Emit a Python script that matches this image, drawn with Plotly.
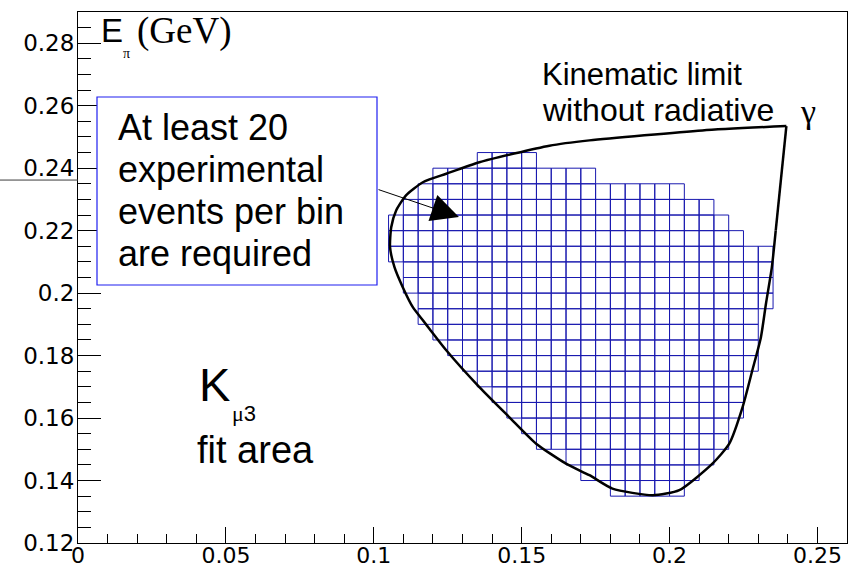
import plotly.graph_objects as go

# ---- binning of the fit area: one column of 0.005 x 0.005 bins per x edge ----
bin_w = 0.005
bin_h = 0.005
col_x0 = [0.105, 0.110, 0.115, 0.120, 0.125, 0.130, 0.135, 0.140, 0.145,
          0.150, 0.155, 0.160, 0.165, 0.170, 0.175, 0.180, 0.185, 0.190,
          0.195, 0.200, 0.205, 0.210, 0.215, 0.220, 0.225, 0.230]
col_ylo = [0.210, 0.200, 0.190, 0.185, 0.180, 0.175, 0.170, 0.165, 0.160,
           0.155, 0.150, 0.150, 0.145, 0.140, 0.140, 0.135, 0.135, 0.135,
           0.135, 0.135, 0.140, 0.145, 0.150, 0.160, 0.175, 0.195]
col_yhi = [0.225, 0.230, 0.235, 0.240, 0.240, 0.240, 0.245, 0.245, 0.245,
           0.245, 0.240, 0.240, 0.240, 0.240, 0.235, 0.235, 0.235, 0.235,
           0.235, 0.235, 0.230, 0.230, 0.225, 0.220, 0.215, 0.215]

# ---- kinematic limit without radiative photon (closed contour) ----
lim_x = [0.2395, 0.2111, 0.1729, 0.1594, 0.1357, 0.1245, 0.1166, 0.1109,
         0.1076, 0.1059, 0.1055, 0.1070, 0.1098, 0.1132, 0.1166, 0.1188,
         0.1245, 0.1357, 0.1458, 0.1549, 0.1650, 0.1729, 0.1807, 0.1943,
         0.2033, 0.2145, 0.2202, 0.2247, 0.2280, 0.2309, 0.2326, 0.2346,
         0.2359, 0.2395]
lim_y = [0.2535, 0.2521, 0.2489, 0.2472, 0.2419, 0.2382, 0.2355, 0.2313,
         0.2265, 0.2211, 0.2147, 0.2083, 0.2019, 0.1955, 0.1913, 0.1886,
         0.1817, 0.1699, 0.1603, 0.1518, 0.1454, 0.1417, 0.1374, 0.1353,
         0.1369, 0.1454, 0.1518, 0.1635, 0.1753, 0.1859, 0.1966, 0.2083,
         0.2200, 0.2535]

# ---- axes ----
x_ticks = [0, 0.05, 0.10, 0.15, 0.20, 0.25]
x_labels = ["0", "0.05", "0.1", "0.15", "0.2", "0.25"]
y_ticks = [0.12, 0.14, 0.16, 0.18, 0.20, 0.22, 0.24, 0.26, 0.28]
y_labels = ["0.12", "0.14", "0.16", "0.18", "0.2", "0.22", "0.24", "0.26", "0.28"]

W, H = 848, 571
ML, MR, MT, MB = 78, 1, 12, 28
PW, PH = W - ML - MR, H - MT - MB


def paper(px, py):
    """pixel position on the page -> paper coordinates"""
    return (px - ML) / PW, (H - MB - py) / PH


# outline of every bin, as one polyline broken by gaps
gx, gy = [], []
for x0, lo, hi in zip(col_x0, col_ylo, col_yhi):
    n = round((hi - lo) / bin_h)
    for k in range(n):
        y0 = lo + k * bin_h
        gx += [x0, x0 + bin_w, x0 + bin_w, x0, x0, None]
        gy += [y0, y0, y0 + bin_h, y0 + bin_h, y0, None]

fig = go.Figure()
fig.add_trace(go.Scatter(x=gx, y=gy, mode="lines",
                         line=dict(color="rgb(25,25,175)", width=1),
                         hoverinfo="skip"))
# smooth part of the contour, then the straight edge back into the corner
fig.add_trace(go.Scatter(x=lim_x[:-1], y=lim_y[:-1], mode="lines",
                         line=dict(color="black", width=2.5, shape="spline",
                                   smoothing=0.6),
                         hoverinfo="skip"))
fig.add_trace(go.Scatter(x=lim_x[-2:], y=lim_y[-2:], mode="lines",
                         line=dict(color="black", width=2.5),
                         hoverinfo="skip"))

SANS = "Liberation Sans"
SERIF = "Liberation Serif"


def label(text, px, py, size, family=SANS):
    xp, yp = paper(px, py)
    fig.add_annotation(text=text, x=xp, y=yp, xref="paper", yref="paper",
                       xanchor="left", yanchor="middle", showarrow=False,
                       font=dict(family=family, size=size, color="black"))


# axis title in the corner
label("E", 99, 30, 33)
label("π", 121, 53, 14, SERIF)
label("(GeV)", 135, 31, 37, SERIF)

# kinematic limit caption
label("Kinematic limit", 540, 74, 31)
label("without radiative", 540, 110, 32)
label("γ", 798, 112, 34, SERIF)

# boxed note
bx0, by0 = paper(97, 97)
bx1, by1 = paper(377, 285)
fig.add_shape(type="rect", xref="paper", yref="paper",
              x0=bx0, y0=by0, x1=bx1, y1=by1,
              line=dict(color="rgb(30,30,240)", width=1.2), fillcolor="white")
for i, line in enumerate(["At least 20", "experimental",
                          "events per bin", "are required"]):
    label(line, 116, 128 + 41.7 * i, 36)

# arrow from the note into the binned area
fig.add_annotation(x=0.1288, y=0.2244, ax=0.1011, ay=0.2333,
                   xref="x", yref="y", axref="x", ayref="y",
                   text="", showarrow=True, arrowhead=2, arrowsize=5.5,
                   arrowwidth=1, arrowcolor="black", standoff=0)

# fit area label
label("K", 197, 384, 47)
label("<span style='font-family:Liberation Serif'>μ</span>3", 230, 413, 22)
label("fit area", 195, 450, 38)

# stray rule in the left margin
ly = 0.2362
fig.add_shape(type="line", xref="paper", yref="y", x0=-ML / PW, x1=0,
              y0=ly, y1=ly, line=dict(color="rgb(60,60,60)", width=1))

axis_common = dict(showline=True, linecolor="black", linewidth=1, mirror=True,
                   showgrid=False, zeroline=False, ticks="inside",
                   tickcolor="black", tickwidth=1, automargin=False)
fig.update_xaxes(range=[0, 0.26], tickmode="array", tickvals=x_ticks,
                 ticktext=x_labels, ticklen=16, ticklabelstandoff=-7,
                 tickfont=dict(family="DejaVu Sans", size=22, color="black"),
                 minor=dict(tickmode="linear", tick0=0, dtick=0.01,
                            ticks="inside", ticklen=9, tickcolor="black"),
                 **axis_common)
fig.update_yaxes(range=[0.12, 0.29], tickmode="array", tickvals=y_ticks,
                 ticktext=y_labels, ticklen=23, ticklabelstandoff=-2,
                 tickfont=dict(family="DejaVu Sans", size=23, color="black"),
                 minor=dict(tickmode="linear", tick0=0.12, dtick=0.005,
                            ticks="inside", ticklen=13, tickcolor="black"),
                 **axis_common)

fig.update_layout(width=W, height=H, showlegend=False,
                  margin=dict(l=ML, r=MR, t=MT, b=MB, pad=0),
                  plot_bgcolor="white", paper_bgcolor="white")

fig.write_html("out.html")
